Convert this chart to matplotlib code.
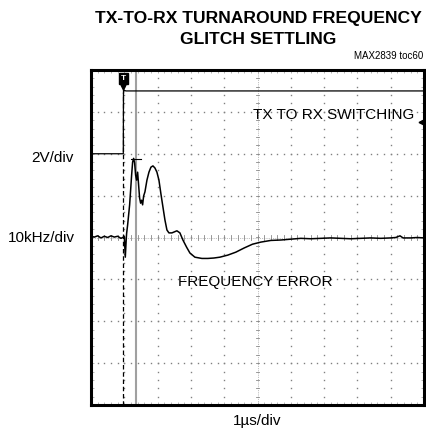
import numpy as np
import matplotlib
matplotlib.use("Agg")
import matplotlib.pyplot as plt

plt.rcParams['font.family'] = ['Liberation Sans', 'DejaVu Sans']

# channel 1: TX/RX control line, 2V/div, offset +2 div
sw_t = [0.0, 0.97, 0.975, 0.99, 1.01, 1.05, 10.0]      # us
sw_v = [0.0, 0.0, 2.9, 3.05, 3.02, 3.0, 3.0]           # V
trig_level_v = 1.5

# channel 2: frequency error, 10kHz/div
fe_t = [0.0, 0.1, 0.2, 0.3, 0.4, 0.5, 0.6, 0.7, 0.8, 0.9, 1.0,
        1.03, 1.06, 1.07, 1.10, 1.13, 1.16, 1.19, 1.22, 1.25, 1.28,
        1.31, 1.34, 1.37, 1.40, 1.43, 1.46, 1.49, 1.52, 1.55, 1.58,
        1.62, 1.68, 1.74, 1.80, 1.86, 1.92, 1.98, 2.04, 2.10, 2.16,
        2.22, 2.28, 2.34, 2.43, 2.58, 2.67, 2.76, 2.87, 2.97, 3.12,
        3.33, 3.51, 3.69, 3.87, 4.11, 4.35, 4.6, 4.85, 5.1, 5.4,
        5.7, 6.0, 6.3, 6.6, 6.9, 7.2, 7.5, 7.8, 8.1, 8.4, 8.7,
        9.0, 9.15, 9.28, 9.37, 9.6, 9.8, 10.0]
fe_khz = [0.3, 0.1, 0.4, -0.1, 0.3, 0.0, 0.4, 0.1, 0.3, -0.2, 0.2,
          -4.7, -0.1, 1.0, 3.0, 5.4, 7.8, 11.3, 14.9, 18.0, 18.9,
          17.8, 14.9, 13.7, 15.6, 12.5, 9.4, 8.2, 8.9, 7.8, 9.9,
          10.9, 13.7, 15.6, 16.8, 17.1, 16.6, 15.6, 13.7, 10.4, 7.3,
          4.2, 1.8, 1.1, 1.1, 1.6, 1.1, -0.6, -2.3, -3.7, -4.7,
          -5.0, -5.0, -4.9, -4.7, -4.2, -3.5, -2.5, -1.6, -1.1, -0.7,
          -0.6, -0.4, -0.2, -0.3, -0.2, -0.1, -0.2, -0.3, -0.2, -0.1, -0.2,
          -0.1, 0.0, 0.4, -0.1, -0.1, 0.0, -0.1]

sw_div = [2 + v / 2 for v in sw_v]
fe_div = [f / 10 for f in fe_khz]

fig = plt.figure(figsize=(4.27, 4.40), dpi=100)
ax = fig.add_axes([91 / 427, 1 - 405 / 440, 333 / 427, 335 / 440])
ax.set_xlim(0, 10)
ax.set_ylim(-4, 4)

# graticule: dotted major lines, dense centre cross with ticks
minor_x = np.arange(0, 10.001, 0.2)
minor_y = np.arange(-4, 4.001, 0.2)
for gx in range(1, 10):
    if gx == 5:
        continue
    ax.plot(np.full_like(minor_y, gx), minor_y, ls='none', marker='s', ms=1.0,
            mew=0, color='#808080')
for gy in range(-3, 4):
    if gy == 0:
        continue
    ax.plot(minor_x, np.full_like(minor_x, gy), ls='none', marker='s', ms=1.0,
            mew=0, color='#808080')
ax.plot([5, 5], [-4, 4], color='#aaaaaa', lw=0.6, ls=(0, (1, 1.2)))
ax.plot([0, 10], [0, 0], color='#aaaaaa', lw=0.6, ls=(0, (1, 1.2)))
for mx in minor_x:
    ax.plot([mx, mx], [-0.05, 0.05], color='#888888', lw=0.6)
for my in minor_y:
    ax.plot([5 - 0.06, 5 + 0.06], [my, my], color='#888888', lw=0.6)

ax.set_xticks(minor_x)
ax.set_yticks(minor_y)
ax.tick_params(direction='in', length=2.5, width=0.5, color='#999999',
               top=True, right=True, labelbottom=False, labelleft=False)
for s in ax.spines.values():
    s.set_linewidth(2.2)

# cursor and trigger lines
ax.axvline(1.34, color='#a0a0a0', lw=1.5)
ax.plot([0.97, 0.97], [3.55, -4], color='black', lw=0.9, ls=(0, (3.6, 2.2)))

ax.plot(sw_t, sw_div, color='black', lw=0.9)
ax.plot(fe_t, fe_div, color='black', lw=1.1)

# peak cursor cap and trigger markers
ax.plot([1.2, 1.5], [1.88, 1.88], color='black', lw=0.8)
ax.text(0.97, 3.8, 'T', color='white', fontsize=6, fontweight='bold',
        ha='center', va='center',
        bbox=dict(boxstyle='square,pad=0.2', fc='black', ec='black'))
ax.plot([0.97], [3.6], marker='v', ms=3.5, color='black')
ax.plot([9.91], [2 + trig_level_v / 2], marker='<', ms=3.5, color='black')

ax.text(4.86, 2.92, 'TX TO RX SWITCHING', fontsize=11, ha='left', va='center')
ax.text(2.61, -1.06, 'FREQUENCY ERROR', fontsize=11, ha='left', va='center')

fig.text(52 / 427, 1 - 158 / 440, '2V/div', fontsize=11, ha='center', va='center')
fig.text(41 / 427, 1 - 238 / 440, '10kHz/div', fontsize=11, ha='center', va='center')
fig.text(257 / 427, 1 - 421 / 440, '1\u00b5s/div', fontsize=11, ha='center', va='center')

fig.text(258 / 427, 1 - 18 / 440, 'TX-TO-RX TURNAROUND FREQUENCY',
         fontsize=12.6, fontweight='bold', ha='center', va='center')
fig.text(258 / 427, 1 - 39 / 440, 'GLITCH SETTLING',
         fontsize=12.6, fontweight='bold', ha='center', va='center')
fig.text(423 / 427, 1 - 56 / 440, 'MAX2839 toc60', fontsize=7, ha='right', va='center')

fig.savefig('out.png', dpi=100)
